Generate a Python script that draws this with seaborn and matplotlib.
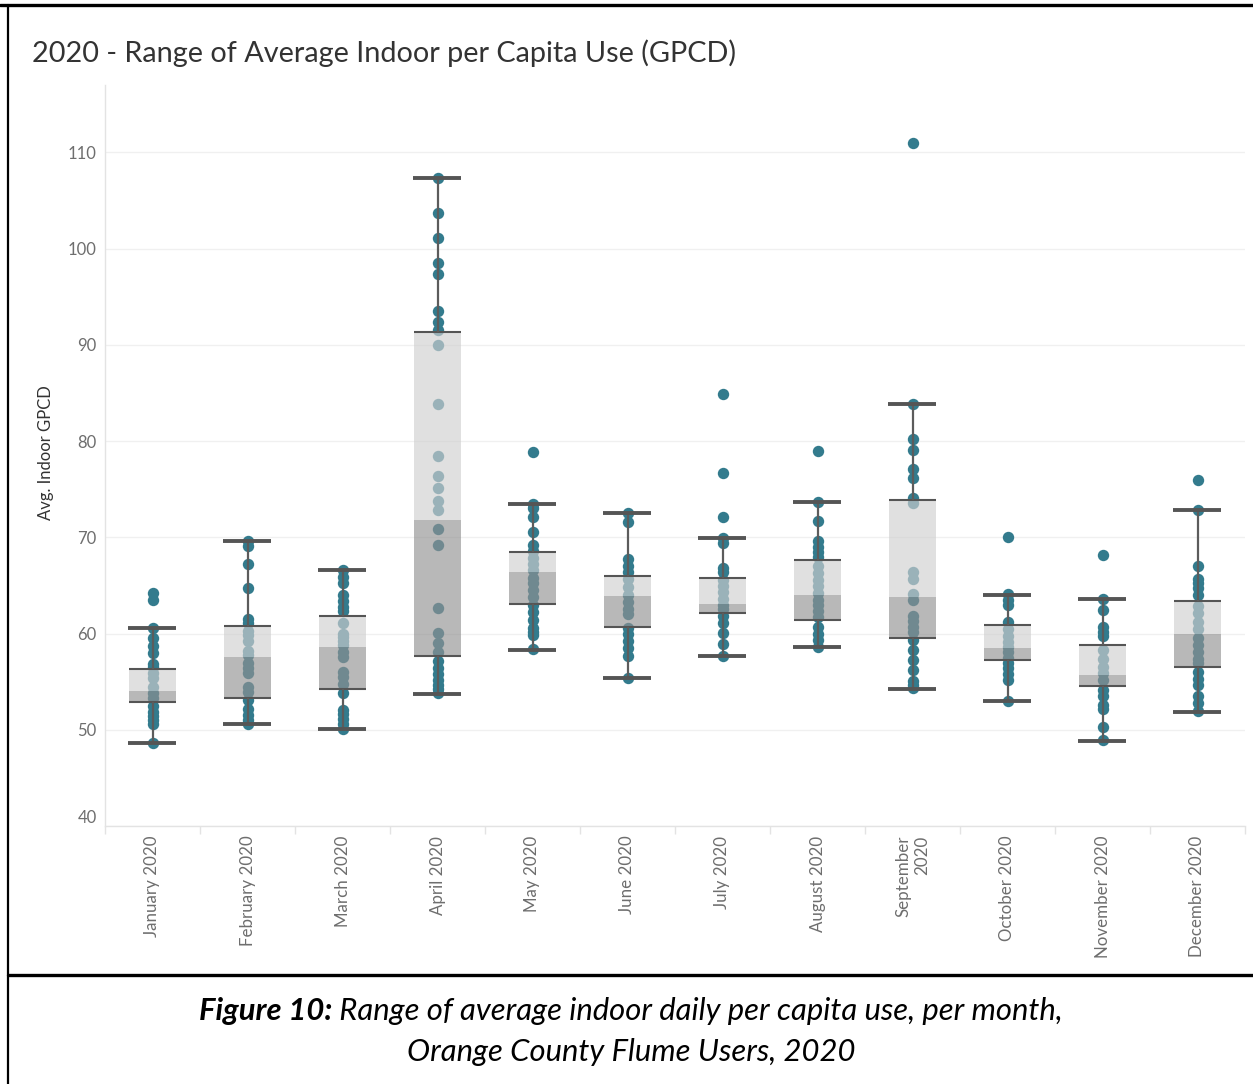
import numpy as np
import pandas as pd
import seaborn as sns
import matplotlib
matplotlib.use("Agg")
import matplotlib.pyplot as plt
from matplotlib.lines import Line2D

sns.set_theme(style="white")
plt.rcParams["font.family"] = ["Lato", "DejaVu Sans"]

# ---- data -----------------------------------------------------------------
months = ["January 2020", "February 2020", "March 2020", "April 2020",
          "May 2020", "June 2020", "July 2020", "August 2020",
          "September 2020", "October 2020", "November 2020", "December 2020"]
month_labels = ["January 2020", "February 2020", "March 2020", "April 2020",
                "May 2020", "June 2020", "July 2020", "August 2020",
                "September\n2020", "October 2020", "November 2020", "December 2020"]

jan = [64.2, 63.5, 60.6, 59.5, 58.7, 58.0, 56.8, 56.5, 55.9, 55.4, 54.4, 53.8,
       53.3, 52.5, 51.8, 51.4, 51.0, 50.6, 48.6]
feb = [69.6, 69.1, 67.2, 64.7, 61.5, 61.1, 60.3, 59.8, 59.2, 58.2, 57.8, 56.9,
       56.4, 55.9, 54.4, 53.9, 53.1, 52.2, 51.5, 51.0, 50.6]
mar = [66.6, 65.9, 65.2, 64.0, 63.4, 62.8, 62.3, 61.1, 60.0, 59.6, 59.2, 58.8,
       58.1, 57.6, 56.0, 55.5, 54.8, 53.8, 52.1, 51.6, 51.1, 50.6, 50.1]
apr = [107.3, 103.7, 101.1, 98.5, 97.4, 93.5, 92.4, 91.5, 90.0, 83.8, 78.4, 76.4,
       75.1, 73.8, 72.8, 70.9, 69.2, 62.7, 60.1, 59.0, 58.1, 57.1, 56.4, 55.8,
       55.2, 54.7, 54.2, 53.8]
may = [78.9, 73.5, 73.0, 72.1, 70.5, 69.2, 68.6, 67.8, 67.2, 66.6, 65.8, 65.2,
       64.5, 63.8, 63.0, 62.2, 61.4, 60.6, 60.2, 59.8, 58.4]
jun = [72.5, 71.6, 67.7, 67.0, 66.4, 65.7, 64.8, 64.0, 63.3, 62.6, 62.0, 60.6,
       59.9, 59.2, 58.5, 57.7, 55.4]
jul = [84.9, 76.7, 72.1, 69.9, 69.4, 66.8, 66.4, 65.6, 64.9, 64.3, 63.6, 63.0,
       62.5, 61.8, 61.1, 60.1, 58.9, 57.7]
aug = [79.0, 73.7, 71.7, 69.6, 69.0, 68.5, 68.0, 67.0, 66.3, 65.6, 64.9, 64.2,
       63.5, 63.0, 62.3, 61.7, 60.7, 60.0, 59.3, 58.6]
sep = [111.0, 83.9, 80.2, 79.1, 77.1, 76.2, 74.1, 73.6, 66.4, 65.7, 64.1, 63.5,
       61.8, 61.3, 60.7, 60.2, 59.3, 58.3, 57.3, 56.2, 55.1, 54.7, 54.3]
oct_ = [70.0, 64.1, 63.5, 63.0, 61.2, 60.5, 59.7, 59.1, 58.6, 58.1, 57.5, 56.9,
        56.4, 55.8, 55.2, 53.0]
nov = [68.2, 63.6, 62.4, 60.7, 60.2, 59.7, 58.3, 57.4, 56.5, 55.9, 55.2, 54.1,
       53.5, 52.6, 52.2, 50.3, 48.9]
dec = [76.0, 72.8, 67.0, 65.7, 65.2, 64.7, 64.0, 62.9, 62.1, 61.2, 60.5, 59.5,
       58.8, 58.1, 57.4, 56.9, 56.0, 55.3, 54.7, 53.5, 52.8, 51.9]

# box-plot summary per month
q1 = [52.9, 53.35, 54.2, 57.65, 63.1, 60.7, 62.1, 61.4, 59.55, 57.3, 54.5, 56.5]
median = [54.0, 57.6, 58.55, 71.8, 66.4, 63.95, 63.1, 64.0, 63.8, 58.5, 55.7, 60.0]
q3 = [56.35, 60.8, 61.8, 91.3, 68.5, 66.0, 65.8, 67.6, 73.9, 60.9, 58.8, 63.35]
whisker_low = [48.6, 50.6, 50.1, 53.7, 58.3, 55.4, 57.7, 58.55, 54.25, 53.0, 48.85, 51.8]
whisker_high = [60.6, 69.6, 66.6, 107.3, 73.5, 72.5, 69.9, 73.7, 83.9, 64.0, 63.6, 72.8]

y_ticks = [40, 50, 60, 70, 80, 90, 100, 110]

# ---- long table for seaborn -------------------------------------------------
per_month = [jan, feb, mar, apr, may, jun, jul, aug, sep, oct_, nov, dec]
df = pd.DataFrame({
    "month": [m for m, vals in zip(months, per_month) for _ in vals],
    "gpcd": [v for vals in per_month for v in vals],
})

TEAL = "#337b8d"
DARK = "#555555"
W, H = 1253, 1084

fig = plt.figure(figsize=(W / 100, H / 100), dpi=100)
fig.patch.set_facecolor("white")
ax = fig.add_axes([105 / W, 1 - 826 / H, (1245 - 105) / W, (826 - 85) / H])

sns.stripplot(data=df, x="month", y="gpcd", order=months, jitter=False,
              color=TEAL, size=8.2, linewidth=0, ax=ax, zorder=2)

pos = np.arange(len(months))
q1a, meda, q3a = np.array(q1), np.array(median), np.array(q3)
half = 0.25

# two-tone box: lower quartile darker, upper quartile lighter (translucent)
ax.bar(pos, meda - q1a, bottom=q1a, width=2 * half, color=(146 / 255,) * 3,
       alpha=0.65, linewidth=0, zorder=3)
ax.bar(pos, q3a - meda, bottom=meda, width=2 * half, color=(208 / 255,) * 3,
       alpha=0.66, linewidth=0, zorder=3)
ax.hlines(q1a, pos - half, pos + half, color=DARK, lw=1.5, zorder=4)
ax.hlines(q3a, pos - half, pos + half, color=DARK, lw=1.5, zorder=4)

# whiskers and caps
ax.vlines(pos, whisker_low, q1a, color="#5c5c5c", lw=1.6, zorder=4)
ax.vlines(pos, q3a, whisker_high, color="#5c5c5c", lw=1.6, zorder=4)
ax.hlines(whisker_low, pos - half - 0.01, pos + half, color=DARK, lw=2.8, zorder=4)
ax.hlines(whisker_high, pos - half - 0.01, pos + half, color=DARK, lw=2.8, zorder=4)

# ---- axes styling -----------------------------------------------------------
ax.set_xlim(-0.5, len(months) - 0.5)
ax.set_ylim(40, 117)
ax.set_yticks(y_ticks)
ax.set_yticklabels([str(t) for t in y_ticks])
ax.set_xticks(pos)
ax.set_xticklabels(month_labels, rotation=90, ha="center", va="top",
                   multialignment="right")
ax.set_xticks(np.arange(-0.5, len(months), 1), minor=True)
ax.set_xlabel("")
ax.set_ylabel("")

ax.grid(axis="y", color="#f0f0f0", lw=1)
ax.grid(axis="x", visible=False)
ax.set_axisbelow(True)
for side in ("top", "right"):
    ax.spines[side].set_visible(False)
for side in ("left", "bottom"):
    ax.spines[side].set_color("#e3e3e3")
    ax.spines[side].set_linewidth(1)

ax.tick_params(axis="y", length=0, pad=6, labelsize=12, labelcolor="#6e6e6e")
ax.tick_params(axis="x", which="major", length=0, pad=7, labelsize=12.2,
               labelcolor="#6e6e6e")
ax.tick_params(axis="x", which="minor", length=6, width=1, color="#e3e3e3",
               bottom=True)
ax.yaxis.get_major_ticks()[0].label1.set_verticalalignment("bottom")

# ---- titles and caption -----------------------------------------------------
fig.text(32 / W, 1 - 53 / H, "2020 - Range of Average Indoor per Capita Use (GPCD)",
         fontsize=20.8, color="#333333", ha="left", va="center")
fig.text(46 / W, 1 - 453 / H, "Avg. Indoor GPCD", fontsize=12, color="#333333",
         rotation=90, ha="center", va="center")

renderer = fig.canvas.get_renderer()
cap_y1 = 1 - 1011 / H
cap_y2 = 1 - 1052 / H
cap_size = 22.3
t_bold = fig.text(0, cap_y1, "Figure 10:", fontsize=cap_size, fontstyle="italic",
                  fontweight="bold", color="black", va="center", ha="left")
t_rest = fig.text(0, cap_y1, " Range of average indoor daily per capita use, per month,",
                  fontsize=cap_size, fontstyle="italic", color="black", va="center", ha="left")
w_bold = t_bold.get_window_extent(renderer).width
w_rest = t_rest.get_window_extent(renderer).width
x_start = 631 - (w_bold + w_rest) / 2
t_bold.set_x(x_start / W)
t_rest.set_x((x_start + w_bold) / W)
fig.text(631 / W, cap_y2, "Orange County Flume Users, 2020", fontsize=cap_size,
         fontstyle="italic", color="black", ha="center", va="center")

# ---- page frame -------------------------------------------------------------
fig.add_artist(Line2D([0, 1], [1 - 5 / H, 1 - 5 / H], transform=fig.transFigure,
                      color="black", lw=2.4))
fig.add_artist(Line2D([8 / W, 8 / W], [0, 1 - 5 / H], transform=fig.transFigure,
                      color="black", lw=1.6))
fig.add_artist(Line2D([8 / W, 1], [1 - 975 / H, 1 - 975 / H], transform=fig.transFigure,
                      color="black", lw=2.4))

fig.savefig("out.png", dpi=100)
